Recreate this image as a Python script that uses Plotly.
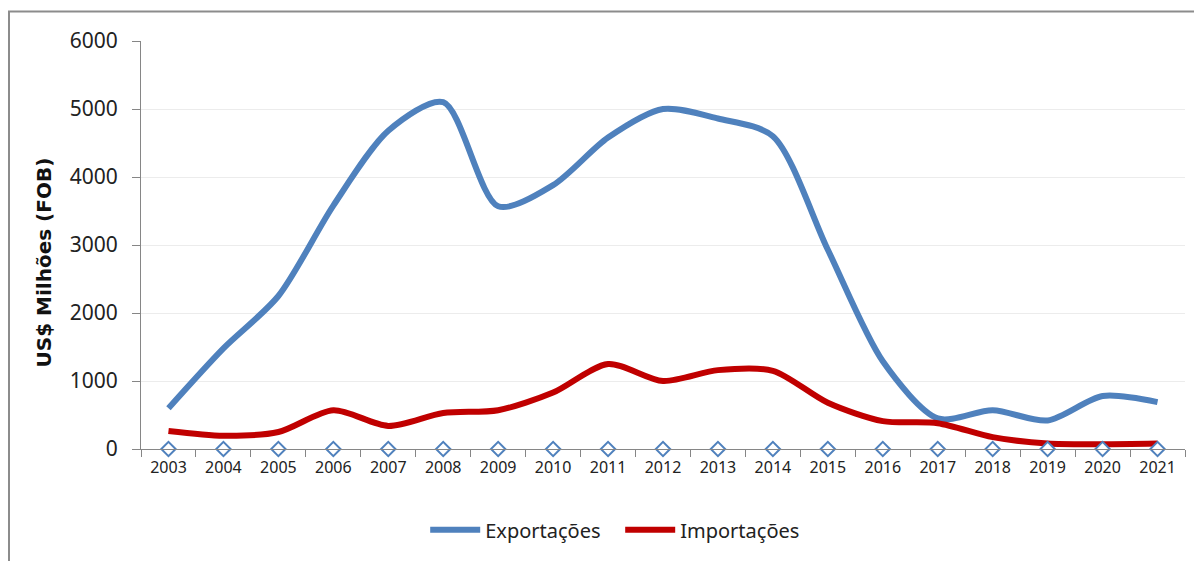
import plotly.graph_objects as go

years = [str(y) for y in range(2003, 2022)]
exportacoes = [600, 1480, 2250, 3580, 4680, 5100, 3570, 3880, 4580, 5000, 4860, 4600, 2930, 1290, 450, 570, 420, 780, 690]
importacoes = [265, 195, 250, 570, 340, 530, 570, 830, 1250, 1000, 1160, 1150, 680, 410, 380, 175, 80, 70, 80]
zeros = [0] * len(years)

OFF = 8  # page body margin
W, H = 1202 - OFF, 561 - OFF
# page-pixel plot area
PL, PR, PT, PB = 141, 1185, 41, 450
L, R, T, B = PL - OFF, PR - OFF, PT - OFF, PB - OFF + 5
pw, ph = R - L, B - T

fig = go.Figure()
fig.add_trace(go.Scatter(x=years, y=exportacoes, name="Exportações", mode="lines",
                         line=dict(color="#4F81BD", width=6, shape="spline", smoothing=0.8)))
fig.add_trace(go.Scatter(x=years, y=importacoes, name="Importações", mode="lines",
                         line=dict(color="#C00000", width=6, shape="spline", smoothing=0.8)))
fig.add_trace(go.Scatter(x=years, y=zeros, mode="markers", showlegend=False, cliponaxis=False,
                         marker=dict(symbol="diamond", size=11, color="white",
                                     line=dict(color="#4F81BD", width=2))))

fig.update_layout(
    width=W, height=H,
    margin=dict(l=L, r=W - R, t=T, b=H - B),
    paper_bgcolor="white", plot_bgcolor="white",
    font=dict(family="Noto Sans", color="#222222"),
    showlegend=True,
    legend=dict(orientation="h", x=0.459, xanchor="center", y=-0.15, yanchor="top",
                font=dict(size=20, color="#222222"), itemwidth=50, traceorder="normal",
                entrywidth=130, entrywidthmode="pixels"),
    xaxis=dict(type="category", tickson="boundaries", ticks="outside", ticklen=7,
               tickcolor="#868686", showline=True, linecolor="#868686", linewidth=1,
               showgrid=False, tickfont=dict(size=16, color="#222222"),
               ticklabelstandoff=4,
               range=[-0.5, len(years) - 0.5]),
    yaxis=dict(range=[0, 6000], dtick=1000, ticks="outside", ticklen=8,
               tickcolor="#868686", showline=True, linecolor="#868686", linewidth=1,
               showgrid=True, gridcolor="#ececec", gridwidth=1, zeroline=False,
               tickfont=dict(size=21, color="#222222"), ticklabelstandoff=10),
    annotations=[dict(text="<b>US$ Milhões (FOB)</b>", textangle=-90, showarrow=False,
                      xref="paper", yref="paper",
                      x=(44 - PL) / pw, y=(PB - 263) / (PB - PT),
                      xanchor="center", yanchor="middle",
                      font=dict(family="DejaVu Sans", size=20, color="#111111"))],
    shapes=[dict(type="rect", xref="paper", yref="paper",
                 x0=(1 - L) / pw, x1=(1215 - L) / pw,
                 y0=(B - 580) / ph, y1=1 + (T - 3) / ph,
                 line=dict(color="#8c8c8c", width=2), fillcolor="rgba(0,0,0,0)", layer="below")],
)

fig.write_html("out.html")
